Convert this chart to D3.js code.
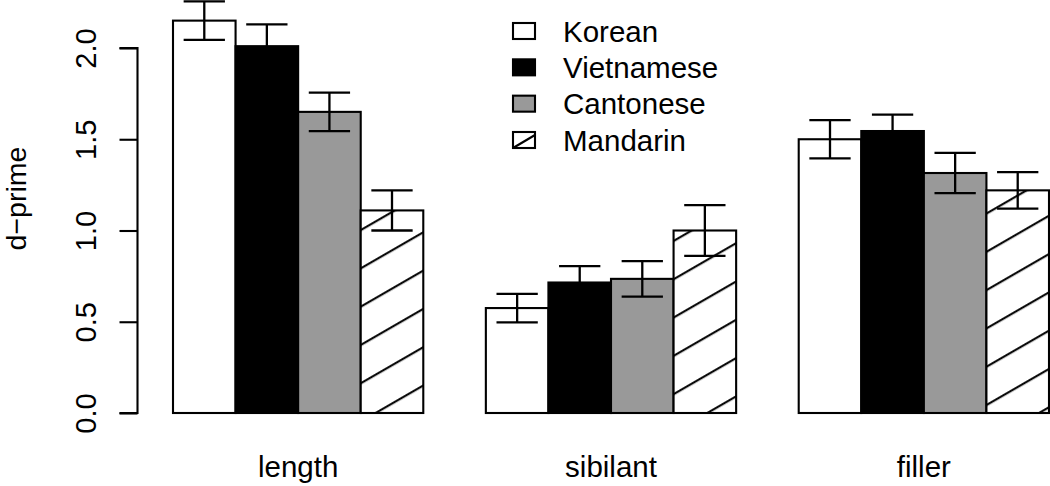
<!DOCTYPE html>
<html>
<head>
<meta charset="utf-8">
<script src="https://cdn.jsdelivr.net/npm/d3@7"></script>
<style>
html,body{margin:0;padding:0;background:#fff;}
svg{display:block;font-family:"Liberation Sans",Arial,Helvetica,sans-serif;}
</style>
</head>
<body>
<svg id="chart" width="1050" height="486"></svg>
<script>
// ---- data ----
const categories = ["length", "sibilant", "filler"];
const series = ["Korean", "Vietnamese", "Cantonese", "Mandarin"];
const korean     = [2.15, 0.575, 1.50];
const vietnamese = [2.01, 0.715, 1.545];
const cantonese  = [1.65, 0.735, 1.315];
const mandarin   = [1.11, 1.00, 1.22];
const koreanErr     = [0.105, 0.078, 0.105];
const vietnameseErr = [0.12, 0.09, 0.09];
const cantoneseErr  = [0.105, 0.097, 0.11];
const mandarinErr   = [0.11, 0.139, 0.10];
const yTicks = [0, 0.5, 1.0, 1.5, 2.0];
const yLabel = "d\u2212prime";

const values = [korean, vietnamese, cantonese, mandarin];
const errors = [koreanErr, vietnameseErr, cantoneseErr, mandarinErr];
const fills = ["#ffffff", "#000000", "#999999", "url(#hatch)"];
const SW = 2.1;

const svg = d3.select("#chart");
const x = d3.scaleLinear().domain([1, 15]).range([173, 1049]);
const y = d3.scaleLinear().domain([0, 2]).range([413, 48]);

// hatch pattern (30 degree lines)
const defs = svg.append("defs");
const pat = defs.append("pattern")
  .attr("id", "hatch")
  .attr("patternUnits", "userSpaceOnUse")
  .attr("width", 20).attr("height", 33.17)
  .attr("patternTransform", "rotate(-30)");
pat.append("rect").attr("width", 20).attr("height", 33.17).attr("fill", "#fff");
pat.append("line").attr("x1", -1).attr("x2", 21).attr("y1", 14.8).attr("y2", 14.8)
  .attr("stroke", "#000").attr("stroke-width", SW);

// build bar records
const bars = [];
categories.forEach((c, g) => {
  series.forEach((s, j) => {
    bars.push({cat: c, ser: j, v: values[j][g], e: errors[j][g], left: 1 + g * 5 + j});
  });
});

svg.append("g").selectAll("rect").data(bars).join("rect")
  .attr("x", d => x(d.left))
  .attr("width", d => x(d.left + 1) - x(d.left))
  .attr("y", d => y(d.v))
  .attr("height", d => y(0) - y(d.v))
  .attr("fill", d => fills[d.ser])
  .attr("stroke", "#000").attr("stroke-width", SW);

// error bars
const eg = svg.append("g").attr("stroke", "#000").attr("stroke-width", 2.3).attr("fill", "none");
bars.forEach(d => {
  const cx = x(d.left + 0.5);
  const hw = (x(d.left + 0.33) - x(d.left));
  eg.append("line").attr("x1", cx).attr("x2", cx).attr("y1", y(d.v + d.e)).attr("y2", y(d.v - d.e));
  eg.append("line").attr("x1", cx - hw).attr("x2", cx + hw).attr("y1", y(d.v + d.e)).attr("y2", y(d.v + d.e));
  eg.append("line").attr("x1", cx - hw).attr("x2", cx + hw).attr("y1", y(d.v - d.e)).attr("y2", y(d.v - d.e));
});

// y axis
const yAxis = d3.axisLeft(y).tickValues(yTicks).tickFormat(d3.format(".1f")).tickSize(18).tickPadding(0);
const ga = svg.append("g").attr("transform", "translate(137.5,0)").call(yAxis);
ga.select(".domain").attr("stroke-width", SW).attr("d", `M-18,${y(0)}H0V${y(2)}H-18`);
ga.selectAll(".tick line").attr("stroke-width", SW);
ga.selectAll(".tick text")
  .attr("font-size", 29).attr("fill", "#000")
  .attr("text-anchor", "middle")
  .attr("transform", "rotate(-90)")
  .attr("x", 0).attr("y", -42).attr("dy", 0);

// y label
svg.append("text")
  .attr("transform", `translate(26,${(y(0) + y(2)) / 2 - 32}) rotate(-90)`)
  .attr("text-anchor", "middle")
  .attr("font-size", 28.5)
  .text(yLabel);

// category labels
svg.append("g").selectAll("text").data(categories).join("text")
  .attr("x", (d, g) => x(1 + g * 5 + 2))
  .attr("y", 477)
  .attr("text-anchor", "middle")
  .attr("font-size", 29.5)
  .text(d => d);

// legend
const lg = svg.append("g");
const rowY = d3.scaleLinear().domain([0, 3]).range([31, 140]);
series.forEach((s, j) => {
  const cy = rowY(j);
  lg.append("rect").attr("x", 513).attr("y", cy - 8).attr("width", 22).attr("height", 16)
    .attr("fill", j === 3 ? "#fff" : fills[j]).attr("stroke", "#000").attr("stroke-width", SW);
  if (j === 3) {
    lg.append("line").attr("x1", 513).attr("y1", cy + 8).attr("x2", 535).attr("y2", cy - 5)
      .attr("stroke", "#000").attr("stroke-width", SW);
  }
  lg.append("text").attr("x", 563).attr("y", cy + 10.5).attr("font-size", 29.5).text(s);
});
</script>
</body>
</html>
